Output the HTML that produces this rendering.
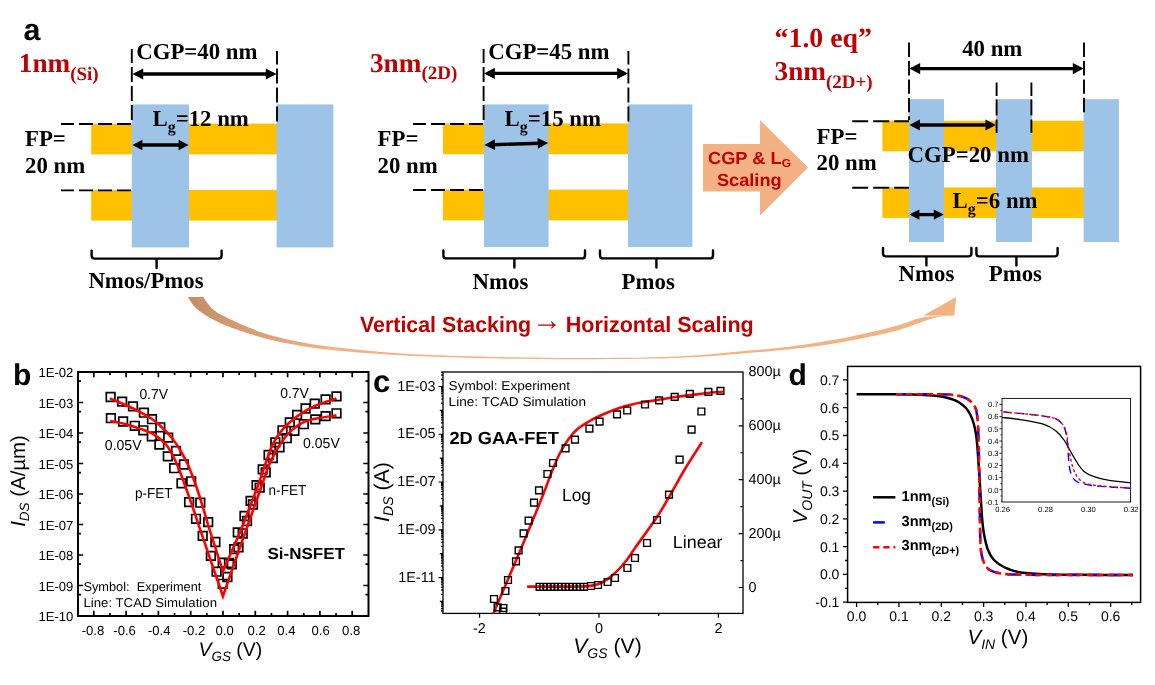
<!DOCTYPE html>
<html lang="en"><head><meta charset="utf-8"><title>Figure</title>
<style>html,body{margin:0;padding:0;background:#fff}svg{display:block;text-rendering:geometricPrecision}</style></head><body>
<div style="width:1155px;height:685px;overflow:hidden;will-change:transform;opacity:0.9999"><svg width="1155" height="685" viewBox="0 0 1155 685">
<rect width="1155" height="685" fill="#fff"/>
<g id="panel-a">
<text x="23.4" y="39.6" font-family='"Liberation Sans", Arial, Helvetica, sans-serif' font-size="30.4" font-weight="bold">a</text>
<text x="18.8" y="72" font-family='"Liberation Serif", "Times New Roman", Times, serif' font-weight="bold" font-size="27.2" fill="#C00000">1nm<tspan font-size="19" dy="7.6">(Si)</tspan></text>
<rect x="91.2" y="123.6" width="185.8" height="30.8" fill="#FFC000"/>
<rect x="91.2" y="190" width="185.8" height="30.6" fill="#FFC000"/>
<rect x="131.8" y="104.4" width="57.2" height="143" fill="#9DC3E6"/>
<rect x="276.6" y="104.4" width="56.8" height="143" fill="#9DC3E6"/>
<line x1="131.8" y1="120" x2="131.8" y2="49" stroke="#000" stroke-width="1.9" stroke-dasharray="15 4"/>
<line x1="277" y1="121.6" x2="277" y2="51" stroke="#000" stroke-width="1.9" stroke-dasharray="15 4"/>
<line x1="131" y1="124" x2="61" y2="124" stroke="#000" stroke-width="1.9" stroke-dasharray="14 5"/>
<line x1="131" y1="190.4" x2="61" y2="190.4" stroke="#000" stroke-width="1.9" stroke-dasharray="14 5"/>
<line x1="141.04" y1="74" x2="267.96" y2="74" stroke="#000" stroke-width="3.3"/>
<polygon points="132.4,74 143.2,79.6 143.2,68.4"/>
<polygon points="276.6,74 265.8,79.6 265.8,68.4"/>
<text x="136.2" y="58.6" font-family='"Liberation Serif", "Times New Roman", Times, serif' font-size="22.8" font-weight="bold">CGP=40 nm</text>
<text x="152.5" y="126" font-family='"Liberation Serif", "Times New Roman", Times, serif' font-weight="bold" font-size="22.8">L<tspan font-size="15.96" dy="6.16">g</tspan><tspan dy="-6.16">=12 nm</tspan></text>
<line x1="140.4" y1="145" x2="180.6" y2="145" stroke="#000" stroke-width="3.3"/>
<polygon points="132.4,145 142.4,150.2 142.4,139.8"/>
<polygon points="188.6,145 178.6,150.2 178.6,139.8"/>
<text x="25" y="146" font-family='"Liberation Serif", "Times New Roman", Times, serif' font-size="22.8" font-weight="bold">FP=</text>
<text x="25" y="173" font-family='"Liberation Serif", "Times New Roman", Times, serif' font-size="22.8" font-weight="bold">20 nm</text>
<path d="M91.6,250.6 L91.6,255.6 Q91.6,258.6 94.6,258.6 L218.6,258.6 Q221.6,258.6 221.6,255.6 L221.6,250.6 M156.6,258.6 L156.6,268" fill="none" stroke="#000" stroke-width="2.4" stroke-linecap="round"/>
<text x="88.4" y="288" font-family='"Liberation Serif", "Times New Roman", Times, serif' font-size="22.8" font-weight="bold">Nmos/Pmos</text>
<text x="370" y="71.6" font-family='"Liberation Serif", "Times New Roman", Times, serif' font-weight="bold" font-size="27.2" fill="#C00000">3nm<tspan font-size="19" dy="7.6">(2D)</tspan></text>
<rect x="443" y="123.4" width="185.4" height="30.8" fill="#FFC000"/>
<rect x="443" y="189.6" width="185.4" height="30.8" fill="#FFC000"/>
<rect x="484" y="104.4" width="64.6" height="142.6" fill="#9DC3E6"/>
<rect x="628" y="104.4" width="64.4" height="142.6" fill="#9DC3E6"/>
<line x1="483.6" y1="120" x2="483.6" y2="49" stroke="#000" stroke-width="1.9" stroke-dasharray="15 4"/>
<line x1="628.4" y1="121.6" x2="628.4" y2="51" stroke="#000" stroke-width="1.9" stroke-dasharray="15 4"/>
<line x1="483" y1="124" x2="413" y2="124" stroke="#000" stroke-width="1.9" stroke-dasharray="14 5"/>
<line x1="483" y1="190" x2="413" y2="190" stroke="#000" stroke-width="1.9" stroke-dasharray="14 5"/>
<line x1="492.64" y1="73.4" x2="619.36" y2="73.4" stroke="#000" stroke-width="3.3"/>
<polygon points="484,73.4 494.8,79 494.8,67.8"/>
<polygon points="628,73.4 617.2,79 617.2,67.8"/>
<text x="488.2" y="58.6" font-family='"Liberation Serif", "Times New Roman", Times, serif' font-size="22.8" font-weight="bold">CGP=45 nm</text>
<text x="504.6" y="126" font-family='"Liberation Serif", "Times New Roman", Times, serif' font-weight="bold" font-size="22.8">L<tspan font-size="15.96" dy="6.16">g</tspan><tspan dy="-6.16">=15 nm</tspan></text>
<line x1="492.8" y1="144.74" x2="539.8" y2="143.26" stroke="#000" stroke-width="3.3"/>
<polygon points="484.4,145 495.06,150.07 494.73,139.27"/>
<polygon points="548.2,143 537.87,148.73 537.54,137.93"/>
<text x="377.6" y="146" font-family='"Liberation Serif", "Times New Roman", Times, serif' font-size="22.8" font-weight="bold">FP=</text>
<text x="377.6" y="172.6" font-family='"Liberation Serif", "Times New Roman", Times, serif' font-size="22.8" font-weight="bold">20 nm</text>
<path d="M443.4,250.4 L443.4,255.4 Q443.4,258.4 446.4,258.4 L582,258.4 Q585,258.4 585,255.4 L585,250.4 M514.4,258.4 L514.4,267.6" fill="none" stroke="#000" stroke-width="2.4" stroke-linecap="round"/>
<path d="M600,250.4 L600,255.4 Q600,258.4 603,258.4 L710,258.4 Q713,258.4 713,255.4 L713,250.4 M656.4,258.4 L656.4,267.6" fill="none" stroke="#000" stroke-width="2.4" stroke-linecap="round"/>
<text x="472.6" y="289" font-family='"Liberation Serif", "Times New Roman", Times, serif' font-size="22.8" font-weight="bold">Nmos</text>
<text x="621.6" y="289" font-family='"Liberation Serif", "Times New Roman", Times, serif' font-size="22.8" font-weight="bold">Pmos</text>
<polygon points="703,144 760,144 760,120 808,167.5 760,215.4 760,191.6 703,191.6" fill="#F4B183"/>
<text x="708" y="164.4" font-family='"Liberation Sans", Arial, Helvetica, sans-serif' font-weight="bold" font-size="17.5" fill="#C00000" textLength="83" lengthAdjust="spacingAndGlyphs">CGP &amp; L<tspan font-size="11.5" dy="2.6">G</tspan></text>
<text x="717" y="186" font-family='"Liberation Sans", Arial, Helvetica, sans-serif' font-size="17.5" font-weight="bold" fill="#C00000" textLength="64.6" lengthAdjust="spacingAndGlyphs">Scaling</text>
<text x="774.6" y="47.4" font-family='"Liberation Serif", "Times New Roman", Times, serif' font-size="27.8" font-weight="bold" fill="#C00000">“1.0 eq”</text>
<text x="774.6" y="80" font-family='"Liberation Serif", "Times New Roman", Times, serif' font-weight="bold" font-size="27.2" fill="#C00000">3nm<tspan font-size="19" dy="7.6">(2D+)</tspan></text>
<rect x="882.4" y="120.8" width="201.6" height="30.5" fill="#FFC000"/>
<rect x="882.4" y="187.4" width="201.6" height="30.5" fill="#FFC000"/>
<rect x="909" y="99.2" width="35" height="142.8" fill="#9DC3E6"/>
<rect x="996" y="99.2" width="36" height="142.8" fill="#9DC3E6"/>
<rect x="1083.6" y="99.2" width="35.4" height="142.8" fill="#9DC3E6"/>
<line x1="909" y1="42.6" x2="909" y2="120" stroke="#000" stroke-width="1.9" stroke-dasharray="14.4 4"/>
<line x1="1084" y1="42.6" x2="1084" y2="113" stroke="#000" stroke-width="1.9" stroke-dasharray="14.4 4"/>
<line x1="996.6" y1="82.6" x2="996.6" y2="133" stroke="#000" stroke-width="1.9" stroke-dasharray="13.4 3.6 16 4"/>
<line x1="1031.4" y1="82.6" x2="1031.4" y2="133" stroke="#000" stroke-width="1.9" stroke-dasharray="13.4 3.6 16 4"/>
<line x1="852.2" y1="121.2" x2="909" y2="121.2" stroke="#000" stroke-width="1.9" stroke-dasharray="16 5"/>
<line x1="852.2" y1="187.8" x2="909" y2="187.8" stroke="#000" stroke-width="1.9" stroke-dasharray="16 5"/>
<line x1="918.04" y1="68.6" x2="1074.96" y2="68.6" stroke="#000" stroke-width="3.3"/>
<polygon points="909.4,68.6 920.2,74.2 920.2,63"/>
<polygon points="1083.6,68.6 1072.8,74.2 1072.8,63"/>
<text x="962.2" y="55.6" font-family='"Liberation Serif", "Times New Roman", Times, serif' font-size="22.8" font-weight="bold">40 nm</text>
<line x1="917.8" y1="125" x2="987.6" y2="125" stroke="#000" stroke-width="3.3"/>
<polygon points="909.4,125 919.9,130.4 919.9,119.6"/>
<polygon points="996,125 985.5,130.4 985.5,119.6"/>
<text x="907.6" y="162" font-family='"Liberation Serif", "Times New Roman", Times, serif' font-size="22.8" font-weight="bold">CGP=20 nm</text>
<text x="952.6" y="208" font-family='"Liberation Serif", "Times New Roman", Times, serif' font-weight="bold" font-size="22.8">L<tspan font-size="15.96" dy="6.16">g</tspan><tspan dy="-6.16">=6 nm</tspan></text>
<line x1="917.4" y1="214.6" x2="935.8" y2="214.6" stroke="#000" stroke-width="3.3"/>
<polygon points="909.4,214.6 919.4,219.8 919.4,209.4"/>
<polygon points="943.8,214.6 933.8,219.8 933.8,209.4"/>
<text x="816.6" y="143.5" font-family='"Liberation Serif", "Times New Roman", Times, serif' font-size="22.8" font-weight="bold">FP=</text>
<text x="816.6" y="170" font-family='"Liberation Serif", "Times New Roman", Times, serif' font-size="22.8" font-weight="bold">20 nm</text>
<path d="M883,248 L883,253.4 Q883,256.4 886,256.4 L968.4,256.4 Q971.4,256.4 971.4,253.4 L971.4,248 M926.4,256.4 L926.4,265.4" fill="none" stroke="#000" stroke-width="2.4" stroke-linecap="round"/>
<path d="M976.4,248 L976.4,253.4 Q976.4,256.4 979.4,256.4 L1054.6,256.4 Q1057.6,256.4 1057.6,253.4 L1057.6,248 M1016.4,256.4 L1016.4,265.4" fill="none" stroke="#000" stroke-width="2.4" stroke-linecap="round"/>
<text x="898.6" y="280.7" font-family='"Liberation Serif", "Times New Roman", Times, serif' font-size="22.8" font-weight="bold">Nmos</text>
<text x="988.8" y="280.7" font-family='"Liberation Serif", "Times New Roman", Times, serif' font-size="22.8" font-weight="bold">Pmos</text>
<defs><linearGradient id="swg" gradientUnits="userSpaceOnUse" x1="189" y1="0" x2="330" y2="0"><stop offset="0" stop-color="#C48E66"/><stop offset="1" stop-color="#F4B183"/></linearGradient></defs>
<path d="M203.5,297 L205.5,300.4 L207.5,303.35 L209.5,305.79 L211.5,307.91 L213.5,309.73 L215.5,311.3 L217.5,312.68 L219.5,313.93 L221.5,315.08 L223.5,316.12 L225.5,317.08 L227.5,317.99 L229.5,318.91 L231.5,319.84 L233.5,320.76 L235.5,321.68 L237.5,322.6 L239.5,323.5 L241.5,324.39 L243.5,325.26 L245.5,326.12 L247.5,326.95 L249.5,327.76 L251.5,328.56 L253.5,329.36 L255.5,330.16 L257.5,330.95 L259.5,331.71 L261.5,332.45 L269.5,335 L277.5,337.04 L285.5,338.93 L293.5,340.65 L301.5,342.23 L309.5,343.65 L317.5,344.92 L325.5,346.04 L333.5,347.02 L341.5,347.95 L349.5,348.84 L357.5,349.69 L365.5,350.49 L373.5,351.24 L381.5,351.95 L389.5,352.59 L397.5,353.19 L405.5,353.72 L413.5,354.19 L421.5,354.59 L429.5,354.93 L437.5,355.22 L445.5,355.51 L453.5,355.77 L461.5,356.02 L469.5,356.26 L477.5,356.48 L485.5,356.68 L493.5,356.88 L501.5,357.05 L509.5,357.21 L517.5,357.36 L525.5,357.5 L533.5,357.62 L541.5,357.72 L549.5,357.82 L557.5,357.91 L565.5,357.98 L573.5,358 L581.5,357.99 L589.5,357.97 L597.5,357.94 L605.5,357.89 L613.5,357.84 L621.5,357.78 L629.5,357.7 L637.5,357.63 L645.5,357.52 L653.5,357.34 L661.5,357.08 L669.5,356.76 L677.5,356.39 L685.5,355.99 L693.5,355.57 L701.5,355.05 L709.5,354.38 L717.5,353.62 L725.5,352.81 L733.5,352.01 L741.5,351.27 L749.5,350.58 L757.5,349.9 L765.5,349.21 L773.5,348.46 L781.5,347.61 L789.5,346.64 L797.5,345.57 L805.5,344.41 L813.5,343.18 L821.5,341.91 L829.5,340.57 L837.5,339.15 L845.5,337.64 L853.5,336.05 L861.5,334.37 L869.5,332.59 L877.5,330.71 L885.5,328.7 L887.5,328.18 L889.5,327.65 L891.5,327.11 L893.5,326.56 L895.5,326.01 L897.5,325.44 L899.5,324.87 L901.5,324.26 L903.5,323.59 L905.5,322.88 L907.5,322.16 L909.5,321.42 L911.5,320.7 L913.5,320.01 L915.5,319.36 L917.5,318.77 L919.5,318.25 L921.5,317.79 L923.5,317.37 L925.5,316.99 L927.5,316.64 L929,316.4 L954.1,315.5 L954,315.5 L952,315.55 L950,315.66 L948,315.82 L946,316.02 L944,316.25 L942,316.51 L940,316.79 L938,317.09 L936,317.49 L934,317.99 L932,318.56 L930,319.2 L928,319.87 L926,320.58 L924,321.29 L922,321.99 L920,322.67 L918,323.33 L916,324.02 L914,324.74 L912,325.47 L910,326.22 L908,326.95 L906,327.67 L904,328.37 L902,329.02 L900,329.63 L898,330.19 L896,330.73 L894,331.26 L892,331.77 L890,332.27 L888,332.75 L886,333.23 L884,333.69 L876,335.45 L868,337.11 L860,338.7 L852,340.27 L844,341.8 L836,343.25 L828,344.58 L820,345.76 L812,346.79 L804,347.72 L796,348.58 L788,349.39 L780,350.18 L772,350.94 L764,351.67 L756,352.37 L748,353.05 L740,353.7 L732,354.37 L724,355.05 L716,355.71 L708,356.32 L700,356.84 L692,357.24 L684,357.58 L676,357.89 L668,358.17 L660,358.41 L652,358.61 L644,358.75 L636,358.84 L628,358.92 L620,358.98 L612,359.05 L604,359.1 L596,359.14 L588,359.17 L580,359.19 L572,359.2 L564,359.18 L556,359.15 L548,359.1 L540,359.04 L532,358.97 L524,358.87 L516,358.76 L508,358.63 L500,358.48 L492,358.32 L484,358.15 L476,357.96 L468,357.76 L460,357.54 L452,357.32 L444,357.08 L436,356.83 L428,356.57 L420,356.28 L412,355.94 L404,355.54 L396,355.1 L388,354.61 L380,354.08 L372,353.5 L364,352.88 L356,352.21 L348,351.51 L340,350.76 L332,349.98 L324,349.14 L316,348.15 L308,347.01 L300,345.73 L292,344.32 L284,342.78 L276,341.12 L268,339.35 L260,337.12 L258,336.5 L256,335.86 L254,335.22 L252,334.57 L250,333.93 L248,333.29 L246,332.65 L244,332.01 L242,331.36 L240,330.7 L238,330.02 L236,329.33 L234,328.62 L232,327.88 L230,327.12 L228,326.33 L226,325.51 L224,324.66 L222,323.79 L220,322.88 L218,321.94 L216,320.96 L214,319.95 L212,318.91 L210,317.82 L208,316.68 L206,315.48 L204,314.2 L202,312.84 L200,311.4 L198,309.86 L196,308.13 L194,306.12 L192,303.61 L190,300.51 L188,297Z" fill="url(#swg)"/>
<polygon points="956.1,297 954.2,315.7 923.3,315.5" fill="#F4B183"/>
<text x="360" y="332.4" font-family='"Liberation Sans", Arial, Helvetica, sans-serif' font-size="22" font-weight="bold" fill="#C00000" textLength="171" lengthAdjust="spacingAndGlyphs">Vertical Stacking</text>
<text x="547" y="330.2" font-family='"Liberation Sans", Arial, Helvetica, sans-serif' font-size="30" fill="#C00000" text-anchor="middle">→</text>
<text x="565.8" y="332.4" font-family='"Liberation Sans", Arial, Helvetica, sans-serif' font-size="22" font-weight="bold" fill="#C00000" textLength="188" lengthAdjust="spacingAndGlyphs">Horizontal Scaling</text>
</g>
<g id="panel-b">
<text x="13" y="384.7" font-family='"Liberation Sans", Arial, Helvetica, sans-serif' font-size="30" font-weight="bold">b</text>
<path d="M93.8,616v-5.2M93.8,372v5.2M109.95,616v-3M109.95,372v3M126.1,616v-5.2M126.1,372v5.2M142.25,616v-3M142.25,372v3M158.4,616v-5.2M158.4,372v5.2M174.55,616v-3M174.55,372v3M190.7,616v-5.2M190.7,372v5.2M206.85,616v-3M206.85,372v3M223,616v-5.2M223,372v5.2M239.15,616v-3M239.15,372v3M255.3,616v-5.2M255.3,372v5.2M271.45,616v-3M271.45,372v3M287.6,616v-5.2M287.6,372v5.2M303.75,616v-3M303.75,372v3M319.9,616v-5.2M319.9,372v5.2M336.05,616v-3M336.05,372v3M352.2,616v-5.2M352.2,372v5.2M78,594.68h3M368.5,594.68h-3M78,585.5h5.2M368.5,585.5h-5.2M78,564.18h3M368.5,564.18h-3M78,555h5.2M368.5,555h-5.2M78,533.68h3M368.5,533.68h-3M78,524.5h5.2M368.5,524.5h-5.2M78,503.18h3M368.5,503.18h-3M78,494h5.2M368.5,494h-5.2M78,472.68h3M368.5,472.68h-3M78,463.5h5.2M368.5,463.5h-5.2M78,442.18h3M368.5,442.18h-3M78,433h5.2M368.5,433h-5.2M78,411.68h3M368.5,411.68h-3M78,402.5h5.2M368.5,402.5h-5.2M78,381.18h3M368.5,381.18h-3" stroke="#000" stroke-width="1.7" fill="none"/>
<rect x="78" y="372" width="290.5" height="244" fill="none" stroke="#000" stroke-width="2"/>
<text x="73.4" y="621.2" font-family='"Liberation Sans", Arial, Helvetica, sans-serif' font-size="13.1" text-anchor="end">1E-10</text>
<text x="73.4" y="590.7" font-family='"Liberation Sans", Arial, Helvetica, sans-serif' font-size="13.1" text-anchor="end">1E-09</text>
<text x="73.4" y="560.2" font-family='"Liberation Sans", Arial, Helvetica, sans-serif' font-size="13.1" text-anchor="end">1E-08</text>
<text x="73.4" y="529.7" font-family='"Liberation Sans", Arial, Helvetica, sans-serif' font-size="13.1" text-anchor="end">1E-07</text>
<text x="73.4" y="499.2" font-family='"Liberation Sans", Arial, Helvetica, sans-serif' font-size="13.1" text-anchor="end">1E-06</text>
<text x="73.4" y="468.7" font-family='"Liberation Sans", Arial, Helvetica, sans-serif' font-size="13.1" text-anchor="end">1E-05</text>
<text x="73.4" y="438.2" font-family='"Liberation Sans", Arial, Helvetica, sans-serif' font-size="13.1" text-anchor="end">1E-04</text>
<text x="73.4" y="407.7" font-family='"Liberation Sans", Arial, Helvetica, sans-serif' font-size="13.1" text-anchor="end">1E-03</text>
<text x="73.4" y="377.2" font-family='"Liberation Sans", Arial, Helvetica, sans-serif' font-size="13.1" text-anchor="end">1E-02</text>
<text x="93" y="635.2" font-family='"Liberation Sans", Arial, Helvetica, sans-serif' font-size="13.1" text-anchor="middle">-0.8</text>
<text x="124.6" y="635.2" font-family='"Liberation Sans", Arial, Helvetica, sans-serif' font-size="13.1" text-anchor="middle">-0.6</text>
<text x="159.2" y="635.2" font-family='"Liberation Sans", Arial, Helvetica, sans-serif' font-size="13.1" text-anchor="middle">-0.4</text>
<text x="194" y="635.2" font-family='"Liberation Sans", Arial, Helvetica, sans-serif' font-size="13.1" text-anchor="middle">-0.2</text>
<text x="224.6" y="635.2" font-family='"Liberation Sans", Arial, Helvetica, sans-serif' font-size="13.1" text-anchor="middle">0.0</text>
<text x="256.6" y="635.2" font-family='"Liberation Sans", Arial, Helvetica, sans-serif' font-size="13.1" text-anchor="middle">0.2</text>
<text x="286.4" y="635.2" font-family='"Liberation Sans", Arial, Helvetica, sans-serif' font-size="13.1" text-anchor="middle">0.4</text>
<text x="320.6" y="635.2" font-family='"Liberation Sans", Arial, Helvetica, sans-serif' font-size="13.1" text-anchor="middle">0.6</text>
<text x="351.2" y="635.2" font-family='"Liberation Sans", Arial, Helvetica, sans-serif' font-size="13.1" text-anchor="middle">0.8</text>
<text transform="translate(24.6,481) rotate(-90)" text-anchor="middle" font-family='"Liberation Sans", Arial, Helvetica, sans-serif' font-size="20.4"><tspan font-style="italic">I</tspan><tspan font-style="italic" font-size="13.5" dy="4.5">DS</tspan><tspan dy="-4.5"> (A/µm)</tspan></text>
<text x="198.4" y="656" font-family='"Liberation Sans", Arial, Helvetica, sans-serif' font-size="19.5"><tspan font-style="italic">V</tspan><tspan font-style="italic" font-size="13.5" dy="4.8">GS</tspan><tspan dy="-4.8"> (V)</tspan></text>
<path d="M106.3,392.7h8.6v8.6h-8.6zM117.8,397.3h8.6v8.6h-8.6zM128.7,402.1h8.6v8.6h-8.6zM139.6,408.4h8.6v8.6h-8.6zM147.7,414.9h8.6v8.6h-8.6zM156,423h8.6v8.6h-8.6zM163.9,433.3h8.6v8.6h-8.6zM171.7,446.6h8.6v8.6h-8.6zM179.6,460.2h8.6v8.6h-8.6zM186.9,477h8.6v8.6h-8.6zM196,498.4h8.6v8.6h-8.6zM203.9,517.8h8.6v8.6h-8.6zM211.1,537.7h8.6v8.6h-8.6zM218.4,558.3h8.6v8.6h-8.6zM106.6,413.9h8.6v8.6h-8.6zM118.8,417.2h8.6v8.6h-8.6zM130.5,421.5h8.6v8.6h-8.6zM139,426h8.6v8.6h-8.6zM147.5,432.1h8.6v8.6h-8.6zM155.1,440.2h8.6v8.6h-8.6zM163.5,452.1h8.6v8.6h-8.6zM169.9,463.9h8.6v8.6h-8.6zM177.2,479h8.6v8.6h-8.6zM184.8,497.8h8.6v8.6h-8.6zM191.7,514.5h8.6v8.6h-8.6zM198.4,531.6h8.6v8.6h-8.6zM206.6,551.6h8.6v8.6h-8.6zM212.3,567.4h8.6v8.6h-8.6zM218.4,579.5h8.6v8.6h-8.6zM332.2,392.1h8.6v8.6h-8.6zM321.3,395.1h8.6v8.6h-8.6zM310.4,399.3h8.6v8.6h-8.6zM301.3,404.2h8.6v8.6h-8.6zM292.8,410.6h8.6v8.6h-8.6zM285.5,418.1h8.6v8.6h-8.6zM278.2,426h8.6v8.6h-8.6zM271,438.1h8.6v8.6h-8.6zM264.3,450.7h8.6v8.6h-8.6zM258.4,465.1h8.6v8.6h-8.6zM252.3,480.9h8.6v8.6h-8.6zM246.3,496.6h8.6v8.6h-8.6zM240.2,511.7h8.6v8.6h-8.6zM233.5,528.1h8.6v8.6h-8.6zM229.9,544.9h8.6v8.6h-8.6zM224.7,558.7h8.6v8.6h-8.6zM332.2,409h8.6v8.6h-8.6zM321.3,411.8h8.6v8.6h-8.6zM311,415.1h8.6v8.6h-8.6zM299.5,419.9h8.6v8.6h-8.6zM290.1,426.6h8.6v8.6h-8.6zM282.5,433.9h8.6v8.6h-8.6zM275.2,443h8.6v8.6h-8.6zM268.5,453.7h8.6v8.6h-8.6zM261.4,468.1h8.6v8.6h-8.6zM255.4,483.3h8.6v8.6h-8.6zM248.7,500.2h8.6v8.6h-8.6zM242.7,516.7h8.6v8.6h-8.6zM238.4,529.2h8.6v8.6h-8.6zM234.2,543.1h8.6v8.6h-8.6zM227.5,560.1h8.6v8.6h-8.6zM223.1,572.7h8.6v8.6h-8.6z" fill="none" stroke="#000" stroke-width="1.7"/>
<path d="M110,398.4 C113.83,400.08 126,405.07 133,408.5 C140,411.93 147.17,415.83 152,419 C156.83,422.17 158.67,424.33 162,427.5 C165.33,430.67 168.83,434 172,438 C175.17,442 178.25,446.83 181,451.5 C183.75,456.17 185.97,460.2 188.5,466 C191.03,471.8 193.82,479.5 196.2,486.3 C198.58,493.1 200.85,500.47 202.8,506.8 C204.75,513.13 207.05,521.38 207.9,524.3 L222.9,571.4 L239.7,533 C242.42,526 251.78,502.33 256,491 C260.22,479.67 262.2,472.8 265,465 C267.8,457.2 269.88,450.08 272.8,444.2 C275.72,438.32 278.45,434.33 282.5,429.7 C286.55,425.07 291.73,420.35 297.1,416.4 C302.47,412.45 308.13,408.98 314.7,406 C321.27,403.02 332.87,399.75 336.5,398.5 " fill="none" stroke="#FF0000" stroke-width="2.6" stroke-linejoin="miter" stroke-miterlimit="10"/>
<path d="M110,421 C112.17,421.42 118.87,422.5 123,423.5 C127.13,424.5 131.13,425.83 134.8,427 C138.47,428.17 141.7,429.2 145,430.5 C148.3,431.8 151.1,432.47 154.6,434.8 C158.1,437.13 162.83,440.78 166,444.5 C169.17,448.22 171.37,452.8 173.6,457.1 C175.83,461.4 177.45,465.43 179.4,470.3 C181.35,475.17 183.1,480.22 185.3,486.3 C187.5,492.38 190.42,500.47 192.6,506.8 C194.78,513.13 197.43,521.38 198.4,524.3 L222.9,596.2 L245,533 C247.83,525 257.97,496.37 262,485 C266.03,473.63 266.18,471.6 269.2,464.8 C272.22,458 276.47,449.85 280.1,444.2 C283.73,438.55 287.15,434.53 291,430.9 C294.85,427.27 299.15,424.42 303.2,422.4 C307.25,420.38 309.75,419.97 315.3,418.8 C320.85,417.63 332.97,415.97 336.5,415.4 " fill="none" stroke="#FF0000" stroke-width="2.6" stroke-linejoin="miter" stroke-miterlimit="10"/>
<text x="139.4" y="398.8" font-family='"Liberation Sans", Arial, Helvetica, sans-serif' font-size="14.4" textLength="28.6" lengthAdjust="spacingAndGlyphs">0.7V</text>
<text x="104.8" y="449.7" font-family='"Liberation Sans", Arial, Helvetica, sans-serif' font-size="14.4" textLength="36.8" lengthAdjust="spacingAndGlyphs">0.05V</text>
<text x="280.2" y="397.6" font-family='"Liberation Sans", Arial, Helvetica, sans-serif' font-size="14.4" textLength="28.6" lengthAdjust="spacingAndGlyphs">0.7V</text>
<text x="303" y="447.9" font-family='"Liberation Sans", Arial, Helvetica, sans-serif' font-size="14.4" textLength="36.8" lengthAdjust="spacingAndGlyphs">0.05V</text>
<text x="135" y="498.4" font-family='"Liberation Sans", Arial, Helvetica, sans-serif' font-size="14.4" textLength="37.6" lengthAdjust="spacingAndGlyphs">p-FET</text>
<text x="268.6" y="495.4" font-family='"Liberation Sans", Arial, Helvetica, sans-serif' font-size="14.4" textLength="37.6" lengthAdjust="spacingAndGlyphs">n-FET</text>
<text x="267.5" y="558.6" font-family='"Liberation Sans", Arial, Helvetica, sans-serif' font-size="16" font-weight="bold" textLength="77.5" lengthAdjust="spacingAndGlyphs">Si-NSFET</text>
<text x="83.4" y="591" font-family='"Liberation Sans", Arial, Helvetica, sans-serif' font-size="12.8" textLength="118" lengthAdjust="spacingAndGlyphs">Symbol:  Experiment</text>
<text x="83.4" y="607" font-family='"Liberation Sans", Arial, Helvetica, sans-serif' font-size="12.8" textLength="133.6" lengthAdjust="spacingAndGlyphs">Line: TCAD Simulation</text>
</g>
<g id="panel-c">
<text x="373" y="392" font-family='"Liberation Sans", Arial, Helvetica, sans-serif' font-size="31" font-weight="bold">c</text>
<path d="M443,610.92h-2M443,608.61h-2M443,606.72h-2M443,605.12h-2M443,603.73h-2M443,602.51h-2M443,601.42h-3.2M443,594.23h-2M443,590.03h-2M443,587.04h-2M443,584.73h-2M443,582.84h-2M443,581.24h-2M443,579.85h-2M443,578.63h-2M443,577.54h-4.4M443,570.35h-2M443,566.15h-2M443,563.16h-2M443,560.85h-2M443,558.96h-2M443,557.36h-2M443,555.97h-2M443,554.75h-2M443,553.66h-3.2M443,546.47h-2M443,542.27h-2M443,539.28h-2M443,536.97h-2M443,535.08h-2M443,533.48h-2M443,532.09h-2M443,530.87h-2M443,529.78h-4.4M443,522.59h-2M443,518.39h-2M443,515.4h-2M443,513.09h-2M443,511.2h-2M443,509.6h-2M443,508.21h-2M443,506.99h-2M443,505.9h-3.2M443,498.71h-2M443,494.51h-2M443,491.52h-2M443,489.21h-2M443,487.32h-2M443,485.72h-2M443,484.33h-2M443,483.11h-2M443,482.02h-4.4M443,474.83h-2M443,470.63h-2M443,467.64h-2M443,465.33h-2M443,463.44h-2M443,461.84h-2M443,460.45h-2M443,459.23h-2M443,458.14h-3.2M443,450.95h-2M443,446.75h-2M443,443.76h-2M443,441.45h-2M443,439.56h-2M443,437.96h-2M443,436.57h-2M443,435.35h-2M443,434.26h-4.4M443,427.07h-2M443,422.87h-2M443,419.88h-2M443,417.57h-2M443,415.68h-2M443,414.08h-2M443,412.69h-2M443,411.47h-2M443,410.38h-3.2M443,403.19h-2M443,398.99h-2M443,396h-2M443,393.69h-2M443,391.8h-2M443,390.2h-2M443,388.81h-2M443,387.59h-2M443,386.5h-4.4M443,379.31h-2M443,375.11h-2M443,372.12h-2M479.6,613.4v4.4M539.3,613.4v2.6M599,613.4v4.4M658.7,613.4v2.6M718.4,613.4v4.4M743,587.5h-4.4M743,560.55h-2.6M743,533.6h-4.4M743,506.65h-2.6M743,479.7h-4.4M743,452.75h-2.6M743,425.8h-4.4M743,398.85h-2.6" stroke="#000" stroke-width="1.2" fill="none"/>
<rect x="443" y="372" width="300" height="241.4" fill="none" stroke="#000" stroke-width="1.3"/>
<text x="435.6" y="390.6" font-family='"Liberation Sans", Arial, Helvetica, sans-serif' font-size="14.4" text-anchor="end">1E-03</text>
<text x="435.6" y="438.36" font-family='"Liberation Sans", Arial, Helvetica, sans-serif' font-size="14.4" text-anchor="end">1E-05</text>
<text x="435.6" y="486.12" font-family='"Liberation Sans", Arial, Helvetica, sans-serif' font-size="14.4" text-anchor="end">1E-07</text>
<text x="435.6" y="533.88" font-family='"Liberation Sans", Arial, Helvetica, sans-serif' font-size="14.4" text-anchor="end">1E-09</text>
<text x="435.6" y="581.64" font-family='"Liberation Sans", Arial, Helvetica, sans-serif' font-size="14.4" text-anchor="end">1E-11</text>
<text x="479.4" y="633" font-family='"Liberation Sans", Arial, Helvetica, sans-serif' font-size="14.4" text-anchor="middle">-2</text>
<text x="599" y="633" font-family='"Liberation Sans", Arial, Helvetica, sans-serif' font-size="14.4" text-anchor="middle">0</text>
<text x="718.4" y="633" font-family='"Liberation Sans", Arial, Helvetica, sans-serif' font-size="14.4" text-anchor="middle">2</text>
<text x="748.6" y="538.1" font-family='"Liberation Sans", Arial, Helvetica, sans-serif' font-size="14.4">200µ</text>
<text x="748.6" y="484.2" font-family='"Liberation Sans", Arial, Helvetica, sans-serif' font-size="14.4">400µ</text>
<text x="748.6" y="430.3" font-family='"Liberation Sans", Arial, Helvetica, sans-serif' font-size="14.4">600µ</text>
<text x="748.6" y="376.4" font-family='"Liberation Sans", Arial, Helvetica, sans-serif' font-size="14.4">800µ</text>
<text x="748.6" y="592" font-family='"Liberation Sans", Arial, Helvetica, sans-serif' font-size="14.4">0</text>
<text transform="translate(388.6,492) rotate(-90)" text-anchor="middle" font-family='"Liberation Sans", Arial, Helvetica, sans-serif' font-size="21.4"><tspan font-style="italic">I</tspan><tspan font-style="italic" font-size="14" dy="4.6">DS</tspan><tspan dy="-4.6"> (A)</tspan></text>
<text x="573.2" y="653.2" font-family='"Liberation Sans", Arial, Helvetica, sans-serif' font-size="21.2"><tspan font-style="italic">V</tspan><tspan font-style="italic" font-size="14" dy="5">GS</tspan><tspan dy="-5"> (V)</tspan></text>
<clipPath id="clipc"><rect x="443" y="372" width="300" height="241.4"/></clipPath>
<g clip-path="url(#clipc)">
<path d="M489.4,622.8 C490.07,621.23 488.08,625.87 493.4,613.4 C498.72,600.93 513.1,567.57 521.3,548 C529.5,528.43 537.6,508.5 542.6,496 C547.6,483.5 548.4,480.17 551.3,473 C554.2,465.83 557.05,458.75 560,453 C562.95,447.25 566,442.57 569,438.5 C572,434.43 574.5,431.55 578,428.6 C581.5,425.65 585.57,423.27 590,420.8 C594.43,418.33 599.73,415.93 604.6,413.8 C609.47,411.67 614.47,409.6 619.2,408 C623.93,406.4 628.13,405.3 633,404.2 C637.87,403.1 640.97,402.63 648.4,401.4 C655.83,400.17 669,398.03 677.6,396.8 C686.2,395.57 692.6,394.85 700,394 C707.4,393.15 718.33,392.08 722,391.7 " fill="none" stroke="#FF0000" stroke-width="2.6" stroke-linejoin="round" stroke-linecap="round"/>
<path d="M528,586.6 C533.33,586.6 551.33,586.62 560,586.6 C568.67,586.58 574.67,586.67 580,586.5 C585.33,586.33 588.33,586.27 592,585.6 C595.67,584.93 598.33,584.43 602,582.5 C605.67,580.57 610,577.58 614,574 C618,570.42 622.5,565.33 626,561 C629.5,556.67 629.83,555.33 635,548 C640.17,540.67 651.33,525.5 657,517 C662.67,508.5 664.33,505 669,497 C673.67,489 679.6,478 685,469 C690.4,460 698.67,447.33 701.4,443 " fill="none" stroke="#FF0000" stroke-width="2.6" stroke-linejoin="round" stroke-linecap="round"/>
<path d="M717.1,387.5h6.8v6.8h-6.8zM705,388.5h6.8v6.8h-6.8zM686.4,390.5h6.8v6.8h-6.8zM671.3,393.5h6.8v6.8h-6.8zM655.7,397h6.8v6.8h-6.8zM641.6,401.1h6.8v6.8h-6.8zM623.8,407.1h6.8v6.8h-6.8zM613.6,411h6.8v6.8h-6.8zM596.2,418.2h6.8v6.8h-6.8zM586,425.2h6.8v6.8h-6.8zM571.6,436.2h6.8v6.8h-6.8zM562.2,445h6.8v6.8h-6.8zM549.6,459.6h6.8v6.8h-6.8zM544,470.6h6.8v6.8h-6.8zM535.6,487h6.8v6.8h-6.8zM530.6,499.2h6.8v6.8h-6.8zM525.2,517.2h6.8v6.8h-6.8zM520.2,530h6.8v6.8h-6.8zM515.2,547h6.8v6.8h-6.8zM512.6,558h6.8v6.8h-6.8zM504.6,576.6h6.8v6.8h-6.8zM502,587.6h6.8v6.8h-6.8zM490.6,595.6h6.8v6.8h-6.8zM494.2,604h6.8v6.8h-6.8zM500,604.6h6.8v6.8h-6.8zM499.6,608.2h6.8v6.8h-6.8zM536.2,583.4h6.8v6.8h-6.8zM539.9,583.4h6.8v6.8h-6.8zM543.6,583.4h6.8v6.8h-6.8zM547.3,583.4h6.8v6.8h-6.8zM551,583.4h6.8v6.8h-6.8zM554.7,583.4h6.8v6.8h-6.8zM558.4,583.4h6.8v6.8h-6.8zM562.1,583.4h6.8v6.8h-6.8zM565.8,583.4h6.8v6.8h-6.8zM569.5,583.4h6.8v6.8h-6.8zM573.2,583.4h6.8v6.8h-6.8zM576.9,583.4h6.8v6.8h-6.8zM580.6,583.4h6.8v6.8h-6.8zM587.6,582.6h6.8v6.8h-6.8zM594.6,581.6h6.8v6.8h-6.8zM604.2,578.6h6.8v6.8h-6.8zM611.6,574.6h6.8v6.8h-6.8zM624,564.6h6.8v6.8h-6.8zM631.6,554.6h6.8v6.8h-6.8zM643.6,539.6h6.8v6.8h-6.8zM653.6,516.6h6.8v6.8h-6.8zM665.6,491.2h6.8v6.8h-6.8zM676.2,456.2h6.8v6.8h-6.8zM688.2,426.2h6.8v6.8h-6.8zM698,408.1h6.8v6.8h-6.8z" fill="none" stroke="#000" stroke-width="1.4"/>
</g>
<text x="448.6" y="389.6" font-family='"Liberation Sans", Arial, Helvetica, sans-serif' font-size="12.8" textLength="121.4" lengthAdjust="spacingAndGlyphs">Symbol: Experiment</text>
<text x="448.6" y="406" font-family='"Liberation Sans", Arial, Helvetica, sans-serif' font-size="12.8" textLength="137.4" lengthAdjust="spacingAndGlyphs">Line: TCAD Simulation</text>
<text x="449.4" y="444" font-family='"Liberation Sans", Arial, Helvetica, sans-serif' font-size="17.6" font-weight="bold" textLength="109.4" lengthAdjust="spacingAndGlyphs">2D GAA-FET</text>
<text x="562" y="501" font-family='"Liberation Sans", Arial, Helvetica, sans-serif' font-size="17.5" textLength="29" lengthAdjust="spacingAndGlyphs">Log</text>
<text x="672.8" y="548" font-family='"Liberation Sans", Arial, Helvetica, sans-serif' font-size="17.5" textLength="49.8" lengthAdjust="spacingAndGlyphs">Linear</text>
</g>
<g id="panel-d">
<text x="788.4" y="385" font-family='"Liberation Sans", Arial, Helvetica, sans-serif' font-size="30" font-weight="bold">d</text>
<path d="M847.6,602.18h-4.6M847.6,588.29h-2.6M847.6,574.4h-4.6M847.6,560.51h-2.6M847.6,546.62h-4.6M847.6,532.73h-2.6M847.6,518.84h-4.6M847.6,504.95h-2.6M847.6,491.06h-4.6M847.6,477.17h-2.6M847.6,463.28h-4.6M847.6,449.39h-2.6M847.6,435.5h-4.6M847.6,421.61h-2.6M847.6,407.72h-4.6M847.6,393.83h-2.6M847.6,379.94h-4.6M856.6,602.4v4.6M877.77,602.4v2.6M898.94,602.4v4.6M920.11,602.4v2.6M941.28,602.4v4.6M962.45,602.4v2.6M983.62,602.4v4.6M1004.79,602.4v2.6M1025.96,602.4v4.6M1047.13,602.4v2.6M1068.3,602.4v4.6M1089.47,602.4v2.6M1110.64,602.4v4.6M1131.81,602.4v2.6" stroke="#000" stroke-width="1.3" fill="none"/>
<rect x="847.6" y="366.4" width="293" height="236" fill="none" stroke="#000" stroke-width="1.5"/>
<text x="839.4" y="607.08" font-family='"Liberation Sans", Arial, Helvetica, sans-serif' font-size="14" text-anchor="end">-0.1</text>
<text x="839.4" y="579.3" font-family='"Liberation Sans", Arial, Helvetica, sans-serif' font-size="14" text-anchor="end">0.0</text>
<text x="839.4" y="551.52" font-family='"Liberation Sans", Arial, Helvetica, sans-serif' font-size="14" text-anchor="end">0.1</text>
<text x="839.4" y="523.74" font-family='"Liberation Sans", Arial, Helvetica, sans-serif' font-size="14" text-anchor="end">0.2</text>
<text x="839.4" y="495.96" font-family='"Liberation Sans", Arial, Helvetica, sans-serif' font-size="14" text-anchor="end">0.3</text>
<text x="839.4" y="468.18" font-family='"Liberation Sans", Arial, Helvetica, sans-serif' font-size="14" text-anchor="end">0.4</text>
<text x="839.4" y="440.4" font-family='"Liberation Sans", Arial, Helvetica, sans-serif' font-size="14" text-anchor="end">0.5</text>
<text x="839.4" y="412.62" font-family='"Liberation Sans", Arial, Helvetica, sans-serif' font-size="14" text-anchor="end">0.6</text>
<text x="839.4" y="384.84" font-family='"Liberation Sans", Arial, Helvetica, sans-serif' font-size="14" text-anchor="end">0.7</text>
<text x="856.6" y="621.2" font-family='"Liberation Sans", Arial, Helvetica, sans-serif' font-size="14" text-anchor="middle">0.0</text>
<text x="898.94" y="621.2" font-family='"Liberation Sans", Arial, Helvetica, sans-serif' font-size="14" text-anchor="middle">0.1</text>
<text x="941.28" y="621.2" font-family='"Liberation Sans", Arial, Helvetica, sans-serif' font-size="14" text-anchor="middle">0.2</text>
<text x="983.62" y="621.2" font-family='"Liberation Sans", Arial, Helvetica, sans-serif' font-size="14" text-anchor="middle">0.3</text>
<text x="1025.96" y="621.2" font-family='"Liberation Sans", Arial, Helvetica, sans-serif' font-size="14" text-anchor="middle">0.4</text>
<text x="1068.3" y="621.2" font-family='"Liberation Sans", Arial, Helvetica, sans-serif' font-size="14" text-anchor="middle">0.5</text>
<text x="1110.64" y="621.2" font-family='"Liberation Sans", Arial, Helvetica, sans-serif' font-size="14" text-anchor="middle">0.6</text>
<text transform="translate(807.2,486.5) rotate(-90)" text-anchor="middle" font-family='"Liberation Sans", Arial, Helvetica, sans-serif' font-size="20"><tspan font-style="italic">V</tspan><tspan font-style="italic" font-size="14" dy="4.6">OUT</tspan><tspan dy="-4.6"> (V)</tspan></text>
<text x="967.4" y="644" font-family='"Liberation Sans", Arial, Helvetica, sans-serif' font-size="20.6"><tspan font-style="italic">V</tspan><tspan font-style="italic" font-size="14" dy="5">IN</tspan><tspan dy="-5"> (V)</tspan></text>
<path d="M856.6,394.2 C863.83,394.2 888.77,394.07 900,394.2 C911.23,394.33 916.67,394.53 924,395 C931.33,395.47 938,395.67 944,397 C950,398.33 955.67,400.17 960,403 C964.33,405.83 967.33,408.83 970,414 C972.67,419.17 974.5,424.67 976,434 C977.5,443.33 978,456.17 979,470 C980,483.83 981.17,506.33 982,517 C982.83,527.67 983,528.5 984,534 C985,539.5 986.33,545.67 988,550 C989.67,554.33 991.33,557.17 994,560 C996.67,562.83 1000,565 1004,567 C1008,569 1011.33,570.8 1018,572 C1024.67,573.2 1033.67,573.73 1044,574.2 C1054.33,574.67 1065.17,574.67 1080,574.8 C1094.83,574.93 1124.17,574.97 1133,575 " fill="none" stroke="#000" stroke-width="2.5" stroke-linejoin="round" stroke-linecap="butt"/>
<path d="M896,394.2 C903.33,394.2 930.67,394.1 940,394.2 C949.33,394.3 948.33,394.4 952,394.8 C955.67,395.2 959.17,395.73 962,396.6 C964.83,397.47 966.93,398.43 969,400 C971.07,401.57 973.07,403.58 974.4,406 C975.73,408.42 976.3,408.83 977,414.5 C977.7,420.17 978.17,425.75 978.6,440 C979.03,454.25 979.32,483.33 979.6,500 C979.88,516.67 980.07,531.5 980.3,540 C980.53,548.5 980.65,548 981,551 C981.35,554 981.8,555.83 982.4,558 C983,560.17 983.4,562 984.6,564 C985.8,566 986.93,568.43 989.6,570 C992.27,571.57 996.37,572.65 1000.6,573.4 C1004.83,574.15 1008.43,574.25 1015,574.5 C1021.57,574.75 1020.33,574.82 1040,574.9 C1059.67,574.98 1117.5,574.98 1133,575 " fill="none" stroke="#0000FF" stroke-width="2.5" stroke-linejoin="round" stroke-linecap="butt" stroke-dasharray="11.7 8.7" stroke-dashoffset="18.4"/>
<path d="M896,394.2 C903.33,394.2 930.67,394.1 940,394.2 C949.33,394.3 948.33,394.4 952,394.8 C955.67,395.2 959.17,395.73 962,396.6 C964.83,397.47 966.93,398.43 969,400 C971.07,401.57 973.07,403.58 974.4,406 C975.73,408.42 976.3,408.83 977,414.5 C977.7,420.17 978.17,425.75 978.6,440 C979.03,454.25 979.32,483.33 979.6,500 C979.88,516.67 980.07,531.5 980.3,540 C980.53,548.5 980.65,548 981,551 C981.35,554 981.8,555.83 982.4,558 C983,560.17 983.4,562 984.6,564 C985.8,566 986.93,568.43 989.6,570 C992.27,571.57 996.37,572.65 1000.6,573.4 C1004.83,574.15 1008.43,574.25 1015,574.5 C1021.57,574.75 1020.33,574.82 1040,574.9 C1059.67,574.98 1117.5,574.98 1133,575 " fill="none" stroke="#FF0000" stroke-width="2.5" stroke-linejoin="round" stroke-linecap="butt" stroke-dasharray="6.3 3.9"/>
<line x1="873.1" y1="497.3" x2="895.4" y2="497.3" stroke="#000" stroke-width="2.5"/>
<line x1="873.1" y1="522.4" x2="884.8" y2="522.4" stroke="#0000FF" stroke-width="2.5"/>
<line x1="873.1" y1="547.3" x2="895.4" y2="547.3" stroke="#FF0000" stroke-width="2.5" stroke-dasharray="6.3 3.9"/>
<text x="901.6" y="501.2" font-family='"Liberation Sans", Arial, Helvetica, sans-serif' font-weight="bold" font-size="14.6">1nm<tspan font-size="10.9" dy="4">(Si)</tspan></text>
<text x="901.6" y="525.8" font-family='"Liberation Sans", Arial, Helvetica, sans-serif' font-weight="bold" font-size="14.6">3nm<tspan font-size="10.9" dy="4">(2D)</tspan></text>
<text x="901.6" y="550.3" font-family='"Liberation Sans", Arial, Helvetica, sans-serif' font-weight="bold" font-size="14.6">3nm<tspan font-size="10.9" dy="4">(2D+)</tspan></text>
<path d="M1002,502v-2.6M1012.72,502v-1.5M1023.43,502v-1.5M1034.15,502v-1.5M1044.87,502v-2.6M1055.58,502v-1.5M1066.3,502v-1.5M1077.02,502v-1.5M1087.73,502v-2.6M1098.45,502v-1.5M1109.17,502v-1.5M1119.88,502v-1.5M1130.6,502v-2.6M1002,495.9h-1.5M1002,489.8h-2.6M1002,483.7h-1.5M1002,477.6h-2.6M1002,471.5h-1.5M1002,465.4h-2.6M1002,459.3h-1.5M1002,453.2h-2.6M1002,447.1h-1.5M1002,441h-2.6M1002,434.9h-1.5M1002,428.8h-2.6M1002,422.7h-1.5M1002,416.6h-2.6M1002,410.5h-1.5M1002,404.4h-2.6" stroke="#000" stroke-width="0.8" fill="none"/>
<rect x="1002" y="398.4" width="128.6" height="103.6" fill="#fff" stroke="#000" stroke-width="0.9"/>
<text x="998.6" y="504.8" font-family='"Liberation Sans", Arial, Helvetica, sans-serif' font-size="7.6" text-anchor="end">-0.1</text>
<text x="998.6" y="492.6" font-family='"Liberation Sans", Arial, Helvetica, sans-serif' font-size="7.6" text-anchor="end">0.0</text>
<text x="998.6" y="480.4" font-family='"Liberation Sans", Arial, Helvetica, sans-serif' font-size="7.6" text-anchor="end">0.1</text>
<text x="998.6" y="468.2" font-family='"Liberation Sans", Arial, Helvetica, sans-serif' font-size="7.6" text-anchor="end">0.2</text>
<text x="998.6" y="456" font-family='"Liberation Sans", Arial, Helvetica, sans-serif' font-size="7.6" text-anchor="end">0.3</text>
<text x="998.6" y="443.8" font-family='"Liberation Sans", Arial, Helvetica, sans-serif' font-size="7.6" text-anchor="end">0.4</text>
<text x="998.6" y="431.6" font-family='"Liberation Sans", Arial, Helvetica, sans-serif' font-size="7.6" text-anchor="end">0.5</text>
<text x="998.6" y="419.4" font-family='"Liberation Sans", Arial, Helvetica, sans-serif' font-size="7.6" text-anchor="end">0.6</text>
<text x="998.6" y="407.2" font-family='"Liberation Sans", Arial, Helvetica, sans-serif' font-size="7.6" text-anchor="end">0.7</text>
<text x="1002.6" y="511.6" font-family='"Liberation Sans", Arial, Helvetica, sans-serif' font-size="7.6" text-anchor="middle">0.26</text>
<text x="1045.47" y="511.6" font-family='"Liberation Sans", Arial, Helvetica, sans-serif' font-size="7.6" text-anchor="middle">0.28</text>
<text x="1088.33" y="511.6" font-family='"Liberation Sans", Arial, Helvetica, sans-serif' font-size="7.6" text-anchor="middle">0.30</text>
<text x="1131.2" y="511.6" font-family='"Liberation Sans", Arial, Helvetica, sans-serif' font-size="7.6" text-anchor="middle">0.32</text>
<clipPath id="clipi"><rect x="1002" y="398.4" width="128.6" height="103.6"/></clipPath>
<g clip-path="url(#clipi)">
<path d="M1002,417.4 C1005,417.77 1013,418.43 1020,419.6 C1027,420.77 1038,422.5 1044,424.4 C1050,426.3 1052.67,428.4 1056,431 C1059.33,433.6 1061.33,436.17 1064,440 C1066.67,443.83 1069.67,450 1072,454 C1074.33,458 1076,461.1 1078,464 C1080,466.9 1081.33,469.3 1084,471.4 C1086.67,473.5 1090,475.13 1094,476.6 C1098,478.07 1101.83,479.13 1108,480.2 C1114.17,481.27 1127.17,482.53 1131,483 " fill="none" stroke="#000" stroke-width="1.3" stroke-linejoin="round" stroke-linecap="butt"/>
<path d="M1003.5,412 C1007.92,412.4 1021.58,413.4 1030,414.4 C1038.42,415.4 1048.67,416.4 1054,418 C1059.33,419.6 1060,421.5 1062,424 C1064,426.5 1065.07,429.33 1066,433 C1066.93,436.67 1066.93,439.83 1067.6,446 C1068.27,452.17 1068.6,464.17 1070,470 C1071.4,475.83 1072.67,478.47 1076,481 C1079.33,483.53 1084.33,484.2 1090,485.2 C1095.67,486.2 1103.17,486.5 1110,487 C1116.83,487.5 1127.5,488 1131,488.2 " fill="none" stroke="#0000FF" stroke-width="1.4" stroke-linejoin="round" stroke-linecap="butt" stroke-dasharray="8 5"/>
<path d="M1003.5,412 C1007.92,412.4 1021.92,413.47 1030,414.4 C1038.08,415.33 1046.83,416.23 1052,417.6 C1057.17,418.97 1058.67,420.37 1061,422.6 C1063.33,424.83 1064.77,427.1 1066,431 C1067.23,434.9 1067.23,439.83 1068.4,446 C1069.57,452.17 1071.07,462.33 1073,468 C1074.93,473.67 1077.17,477.27 1080,480 C1082.83,482.73 1085,483.27 1090,484.4 C1095,485.53 1103.17,486.2 1110,486.8 C1116.83,487.4 1127.5,487.8 1131,488 " fill="none" stroke="#FF0000" stroke-width="1.4" stroke-linejoin="round" stroke-linecap="butt" stroke-dasharray="3 2.4"/>
</g>
</g>
</svg></div></body></html>
